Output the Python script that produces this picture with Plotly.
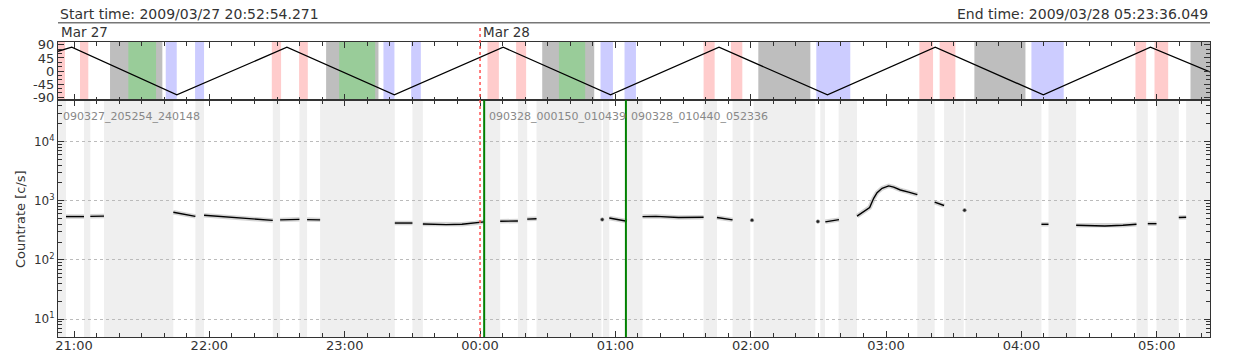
import math
import plotly.graph_objects as go

# ---------------- data ----------------
start_time = "2009-03-27 20:52:54.271"
end_time = "2009-03-28 05:23:36.049"

# orbit track (top panel)
track_time = ["2009-03-27 20:52:54.271", "2009-03-27 20:59:00", "2009-03-27 21:45:35",
              "2009-03-27 22:34:23", "2009-03-27 23:22:00", "2009-03-28 00:10:15",
              "2009-03-28 00:57:51", "2009-03-28 01:45:56", "2009-03-28 02:34:01",
              "2009-03-28 03:21:47", "2009-03-28 04:09:43", "2009-03-28 04:57:12",
              "2009-03-28 05:23:36"]
track_value = [68, 82, -82, 82, -82, 82, -82, 82, -82, 82, -82, 82, -3]
track_ticks = [-90, -45, 0, 45, 90]
track_ticktext = ["-90", "-45", "0", "45", "90"]

pink_start = ["2009-03-27 20:52:54", "2009-03-27 21:02:40", "2009-03-27 22:27:41", "2009-03-27 22:39:47",
              "2009-03-28 00:03:18", "2009-03-28 00:16:00", "2009-03-28 01:39:06", "2009-03-28 01:51:14",
              "2009-03-28 03:14:45", "2009-03-28 03:23:45", "2009-03-28 04:50:34", "2009-03-28 04:59:00"]
pink_end = ["2009-03-27 20:56:00", "2009-03-27 21:06:20", "2009-03-27 22:31:48", "2009-03-27 22:43:39",
            "2009-03-28 00:08:21", "2009-03-28 00:20:26", "2009-03-28 01:44:00", "2009-03-28 01:56:16",
            "2009-03-28 03:20:50", "2009-03-28 03:30:44", "2009-03-28 04:55:18", "2009-03-28 05:05:04"]

gray_start = ["2009-03-27 21:15:58", "2009-03-27 22:51:46", "2009-03-28 00:27:34",
              "2009-03-28 02:03:22", "2009-03-28 03:39:09", "2009-03-28 05:14:57"]
gray_end = ["2009-03-27 21:39:10", "2009-03-27 23:14:58", "2009-03-28 00:50:37",
            "2009-03-28 02:26:26", "2009-03-28 04:01:47", "2009-03-28 05:23:36"]

green_start = ["2009-03-27 21:24:05", "2009-03-27 22:57:32", "2009-03-28 00:34:58"]
green_end = ["2009-03-27 21:36:22", "2009-03-27 23:13:30", "2009-03-28 00:46:37"]

blue_start = ["2009-03-27 21:40:40", "2009-03-27 21:53:40", "2009-03-27 23:17:11", "2009-03-27 23:29:28",
              "2009-03-28 00:53:25", "2009-03-28 01:04:03", "2009-03-28 02:29:04", "2009-03-28 04:04:26"]
blue_end = ["2009-03-27 21:45:33", "2009-03-27 21:57:39", "2009-03-27 23:22:03", "2009-03-27 23:33:46",
            "2009-03-28 00:58:55", "2009-03-28 01:09:07", "2009-03-28 02:44:08", "2009-03-28 04:18:45"]

# data gaps (main panel)
gap_start = ["2009-03-27 20:52:54", "2009-03-27 21:04:26", "2009-03-27 21:13:18", "2009-03-27 21:53:48",
             "2009-03-27 22:28:07", "2009-03-27 22:39:56", "2009-03-27 22:49:06", "2009-03-27 23:30:02",
             "2009-03-28 00:02:17", "2009-03-28 00:16:47", "2009-03-28 00:25:02", "2009-03-28 00:54:29",
             "2009-03-28 01:05:07", "2009-03-28 01:39:06", "2009-03-28 01:51:57", "2009-03-28 02:01:16",
             "2009-03-28 02:30:51", "2009-03-28 02:38:58", "2009-03-28 03:13:52", "2009-03-28 03:25:43",
             "2009-03-28 03:35:10", "2009-03-28 04:12:00", "2009-03-28 04:51:01", "2009-03-28 04:59:53",
             "2009-03-28 05:13:02"]
gap_end = ["2009-03-27 20:56:27", "2009-03-27 21:07:14", "2009-03-27 21:44:02", "2009-03-27 21:57:39",
           "2009-03-27 22:31:22", "2009-03-27 22:43:20", "2009-03-27 23:22:13", "2009-03-27 23:34:39",
           "2009-03-28 00:08:56", "2009-03-28 00:20:55", "2009-03-28 00:53:51", "2009-03-28 00:57:17",
           "2009-03-28 01:12:02", "2009-03-28 01:45:02", "2009-03-28 01:59:49", "2009-03-28 02:28:38",
           "2009-03-28 02:32:56", "2009-03-28 02:47:08", "2009-03-28 03:21:32", "2009-03-28 03:34:25",
           "2009-03-28 04:08:52", "2009-03-28 04:24:16", "2009-03-28 04:56:01", "2009-03-28 05:09:46",
           "2009-03-28 05:23:36"]

# count rate segments
rate_time = [
    ["2009-03-27 20:56:27", "2009-03-27 21:00:30", "2009-03-27 21:04:26"],
    ["2009-03-27 21:07:14", "2009-03-27 21:13:18"],
    ["2009-03-27 21:44:02", "2009-03-27 21:48:30", "2009-03-27 21:53:48"],
    ["2009-03-27 21:57:39", "2009-03-27 22:12:00", "2009-03-27 22:28:07"],
    ["2009-03-27 22:31:22", "2009-03-27 22:39:56"],
    ["2009-03-27 22:43:20", "2009-03-27 22:49:06"],
    ["2009-03-27 23:22:13", "2009-03-27 23:30:02"],
    ["2009-03-27 23:34:39", "2009-03-27 23:45:00", "2009-03-27 23:52:00", "2009-03-27 23:58:00", "2009-03-28 00:01:50"],
    ["2009-03-28 00:08:56", "2009-03-28 00:16:47"],
    ["2009-03-28 00:20:55", "2009-03-28 00:25:02"],
    ["2009-03-28 00:54:10"],
    ["2009-03-28 00:57:17", "2009-03-28 01:05:07"],
    ["2009-03-28 01:12:02", "2009-03-28 01:18:00", "2009-03-28 01:28:00", "2009-03-28 01:39:06"],
    ["2009-03-28 01:45:02", "2009-03-28 01:51:57"],
    ["2009-03-28 02:00:34"],
    ["2009-03-28 02:29:47"],
    ["2009-03-28 02:33:04", "2009-03-28 02:39:07"],
    ["2009-03-28 02:47:08", "2009-03-28 02:50:05", "2009-03-28 02:52:43", "2009-03-28 02:54:30",
     "2009-03-28 02:56:00", "2009-03-28 02:58:14", "2009-03-28 03:01:09", "2009-03-28 03:03:22",
     "2009-03-28 03:06:20", "2009-03-28 03:10:00", "2009-03-28 03:13:52"],
    ["2009-03-28 03:21:32", "2009-03-28 03:25:43"],
    ["2009-03-28 03:34:48"],
    ["2009-03-28 04:08:52", "2009-03-28 04:12:00"],
    ["2009-03-28 04:24:16", "2009-03-28 04:37:00", "2009-03-28 04:45:00", "2009-03-28 04:51:01"],
    ["2009-03-28 04:56:01", "2009-03-28 04:59:53"],
    ["2009-03-28 05:09:46", "2009-03-28 05:13:02"],
]
rate_value = [
    [540, 535, 540],
    [545, 550],
    [640, 595, 545],
    [570, 525, 465],
    [475, 485],
    [480, 475],
    [420, 420],
    [405, 395, 400, 420, 440],
    [450, 455],
    [490, 495],
    [480],
    [510, 450],
    [540, 545, 520, 525],
    [520, 475],
    [470],
    [445],
    [440, 480],
    [550, 650, 770, 1100, 1370, 1620, 1780, 1700, 1520, 1400, 1270],
    [950, 830],
    [690],
    [400, 400],
    [385, 375, 385, 400],
    [410, 410],
    [520, 525],
]
rate_ticks = [10, 100, 1000, 10000]
rate_ticktext = ["10<sup>1</sup>", "10<sup>2</sup>", "10<sup>3</sup>", "10<sup>4</sup>"]

segment_lines = ["2009-03-28 00:01:50", "2009-03-28 01:04:40"]
segment_labels = ["090327_205254_240148", "090328_000150_010439", "090328_010440_052336"]
segment_label_time = ["2009-03-27 20:52:54.271", "2009-03-28 00:01:50", "2009-03-28 01:04:40"]
day_labels = ["Mar 27", "Mar 28"]
day_label_time = ["2009-03-27 20:52:54.271", "2009-03-28 00:00:00"]

# ---------------- figure ----------------
FONT = "DejaVu Sans"
AX = "#333333"

xs, ys = [], []
px_, py_ = [], []
for t, v in zip(rate_time, rate_value):
    xs += t + [None]
    ys += v + [None]
    if len(t) == 1:
        px_ += t
        py_ += v

fig = go.Figure()
fig.add_trace(go.Scatter(x=track_time, y=track_value, mode="lines",
                         line=dict(color="black", width=1.3), xaxis="x2", yaxis="y2",
                         showlegend=False, hoverinfo="skip"))
fig.add_trace(go.Scatter(x=xs, y=ys, mode="lines",
                         line=dict(color="rgba(160,160,160,0.45)", width=4.5),
                         connectgaps=False, showlegend=False, hoverinfo="skip"))
fig.add_trace(go.Scatter(x=xs, y=ys, mode="lines",
                         line=dict(color="black", width=1.4),
                         connectgaps=False, showlegend=False, hoverinfo="skip"))
fig.add_trace(go.Scatter(x=px_, y=py_, mode="markers",
                         marker=dict(color="#222222", size=3.5, line=dict(width=1, color="rgba(160,160,160,0.6)")),
                         showlegend=False, hoverinfo="skip"))

shapes = []
for s, e in zip(gap_start, gap_end):
    shapes.append(dict(type="rect", xref="x", yref="y domain", x0=s, x1=e, y0=0, y1=1,
                       fillcolor="#efefef", line=dict(width=0), layer="below"))
for s, e in zip(gray_start, gray_end):
    shapes.append(dict(type="rect", xref="x", yref="y2 domain", x0=s, x1=e, y0=0, y1=1,
                       fillcolor="#bebebe", line=dict(width=0), layer="below"))
for s, e in zip(green_start, green_end):
    shapes.append(dict(type="rect", xref="x", yref="y2 domain", x0=s, x1=e, y0=0, y1=1,
                       fillcolor="#99cc99", line=dict(width=0), layer="below"))
for s, e in zip(pink_start, pink_end):
    shapes.append(dict(type="rect", xref="x", yref="y2 domain", x0=s, x1=e, y0=0, y1=1,
                       fillcolor="#ffcccc", line=dict(width=0), layer="below"))
for s, e in zip(blue_start, blue_end):
    shapes.append(dict(type="rect", xref="x", yref="y2 domain", x0=s, x1=e, y0=0, y1=1,
                       fillcolor="#ccccff", line=dict(width=0), layer="below"))
for t in segment_lines:
    shapes.append(dict(type="line", xref="x", yref="y domain", x0=t, x1=t, y0=0, y1=1,
                       line=dict(color="#008000", width=2)))
shapes.append(dict(type="line", xref="x", yref="paper", x0=day_label_time[1], x1=day_label_time[1],
                   y0=0, y1=1.048, line=dict(color="#ff5050", width=1.5, dash="dot")))
shapes.append(dict(type="line", xref="paper", yref="paper", x0=0, x1=1, y0=1.0656, y1=1.0656,
                   line=dict(color="#777777", width=1.5)))

annotations = [
    dict(text="Start time: 2009/03/27 20:52:54.271", xref="paper", yref="paper", x=0, y=1.094,
         xanchor="left", yanchor="middle", showarrow=False, font=dict(size=14, color=AX, family=FONT)),
    dict(text="End time: 2009/03/28 05:23:36.049", xref="paper", yref="paper", x=1, y=1.094,
         xanchor="right", yanchor="middle", showarrow=False, font=dict(size=14, color=AX, family=FONT)),
    dict(text="Countrate [c/s]", xref="paper", yref="paper", x=-0.033, y=0.40, textangle=-90,
         xanchor="center", yanchor="middle", showarrow=False, font=dict(size=13, color=AX, family=FONT)),
]
for lbl, t in zip(day_labels, day_label_time):
    annotations.append(dict(text=lbl, xref="x", yref="paper", x=t, y=1.033, xanchor="left",
                            yanchor="middle", xshift=1, showarrow=False,
                            font=dict(size=13.5, color=AX, family=FONT)))
for lbl, t in zip(segment_labels, segment_label_time):
    annotations.append(dict(text=lbl, xref="x", yref="paper", x=t, y=0.749, xanchor="left",
                            yanchor="middle", xshift=3, showarrow=False,
                            font=dict(size=11, color="#888888", family=FONT)))

common_x = dict(type="date", range=[start_time, end_time], showline=True, linecolor=AX, linewidth=1.2,
                mirror="allticks", ticks="inside", ticklen=6, tickcolor=AX, dtick=3600000,
                tick0="2009-03-27 21:00:00", tickformat="%H:%M", showgrid=False, zeroline=False,
                automargin=False,
                minor=dict(ticks="inside", ticklen=3.5, tickcolor=AX, dtick=600000, showgrid=False),
                tickfont=dict(size=13, color=AX, family=FONT))

fig.update_layout(
    width=1240, height=360,
    margin=dict(l=58, r=30, t=42, b=23, autoexpand=False),
    paper_bgcolor="white", plot_bgcolor="white",
    font=dict(family=FONT, color=AX),
    xaxis=dict(common_x, anchor="y", domain=[0, 1], ticklabelstandoff=-4),
    xaxis2=dict(common_x, anchor="y2", domain=[0, 1], matches="x", showticklabels=False),
    yaxis=dict(type="log", domain=[0, 0.803], range=[math.log10(5), math.log10(5e4)],
               tickvals=rate_ticks, ticktext=rate_ticktext,
               showline=True, linecolor=AX, linewidth=1.2, mirror="allticks",
               ticks="inside", ticklen=6, tickcolor=AX, showgrid=True, gridcolor="#bbbbbb",
               griddash="dot", gridwidth=1, zeroline=False, automargin=False,
               minor=dict(ticks="inside", ticklen=3.5, tickcolor=AX, dtick="D1", showgrid=False),
               tickfont=dict(size=12, color=AX, family=FONT)),
    yaxis2=dict(domain=[0.803, 1], range=[-100, 100], tickvals=track_ticks, ticktext=track_ticktext,
                showline=True, linecolor=AX, linewidth=1.2, mirror="allticks", ticks="inside",
                ticklen=6, tickcolor=AX, showgrid=False, zeroline=False, automargin=False,
                minor=dict(ticks="inside", ticklen=3.5, tickcolor=AX, dtick=15, tick0=0, showgrid=False),
                tickfont=dict(size=13, color=AX, family=FONT)),
    shapes=shapes,
    annotations=annotations,
)

fig.write_html("out.html", config={"displayModeBar": False},
               post_script="document.body.style.margin='0px';document.body.style.overflow='hidden';")
